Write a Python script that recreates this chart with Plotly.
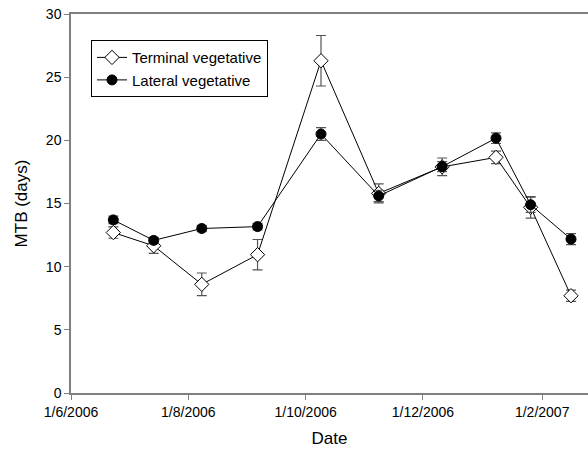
import plotly.graph_objects as go

# Sampling dates (same for both bud types)
dates = ["2006-06-23", "2006-07-14", "2006-08-08", "2006-09-06", "2006-10-09",
         "2006-11-08", "2006-12-11", "2007-01-08", "2007-01-26", "2007-02-16"]

# Mean time to budbreak (days) and standard errors
terminal_mtb = [12.7, 11.65, 8.6, 10.95, 26.3, 15.8, 17.9, 18.65, 14.7, 7.7]
terminal_se = [0.45, 0.6, 0.9, 1.2, 2.0, 0.75, 0.7, 0.5, 0.85, 0.45]
lateral_mtb = [13.7, 12.08, 13.02, 13.17, 20.5, 15.6, 17.92, 20.17, 14.9, 12.18]
lateral_se = [0.3, 0.25, 0.25, 0.25, 0.5, 0.45, 0.4, 0.42, 0.6, 0.43]

tick_dates = ["2006-06-01", "2006-08-01", "2006-10-01", "2006-12-01", "2007-02-01"]
tick_labels = ["1/6/2006", "1/8/2006", "1/10/2006", "1/12/2006", "1/2/2007"]
y_ticks = [0, 5, 10, 15, 20, 25, 30]

FONT = "Arial, Liberation Sans, sans-serif"
AXIS_GREY = "#808080"
ERR_GREY = "#555555"

fig = go.Figure()

fig.add_trace(go.Scatter(
    x=dates, y=terminal_mtb, name="Terminal vegetative",
    mode="lines+markers",
    line=dict(color="black", width=1),
    marker=dict(symbol="diamond", size=11, color="white",
                line=dict(color="black", width=1)),
    error_y=dict(type="data", array=terminal_se, color=ERR_GREY,
                 thickness=1.2, width=5),
))

fig.add_trace(go.Scatter(
    x=dates, y=lateral_mtb, name="Lateral vegetative",
    mode="lines+markers",
    line=dict(color="black", width=1),
    marker=dict(symbol="circle", size=10, color="black",
                line=dict(color="black", width=1)),
    error_y=dict(type="data", array=lateral_se, color=ERR_GREY,
                 thickness=1.2, width=5),
))

fig.update_layout(
    width=588, height=455,
    margin=dict(l=71, r=0, t=14, b=62),
    paper_bgcolor="white", plot_bgcolor="white",
    font=dict(family=FONT, color="black", size=14),
    showlegend=True,
    legend=dict(
        x=0.0387, y=0.931, xanchor="left", yanchor="top",
        bgcolor="white", bordercolor="black", borderwidth=1,
        font=dict(family=FONT, size=15),
        tracegroupgap=0,
        entrywidth=165, entrywidthmode="pixels",
    ),
)

fig.update_xaxes(
    type="date",
    range=["2006-06-01", "2007-02-24 20:00"],
    tickvals=tick_dates, ticktext=tick_labels,
    ticks="outside", ticklen=5, tickwidth=1, tickcolor=AXIS_GREY,
    showline=True, linecolor=AXIS_GREY, linewidth=1.5, mirror=True,
    showgrid=False, zeroline=False,
    tickfont=dict(family=FONT, size=14),
    title=dict(text="Date", font=dict(family=FONT, size=17), standoff=14),
)

fig.update_yaxes(
    range=[0, 30],
    tickvals=y_ticks,
    ticks="outside", ticklen=5, tickwidth=1, tickcolor=AXIS_GREY,
    showline=True, linecolor=AXIS_GREY, linewidth=1.5,
    showgrid=False, zeroline=False,
    tickfont=dict(family=FONT, size=14),
    title=dict(text="MTB (days)", font=dict(family=FONT, size=17), standoff=14),
)

fig.write_html("out.html")
